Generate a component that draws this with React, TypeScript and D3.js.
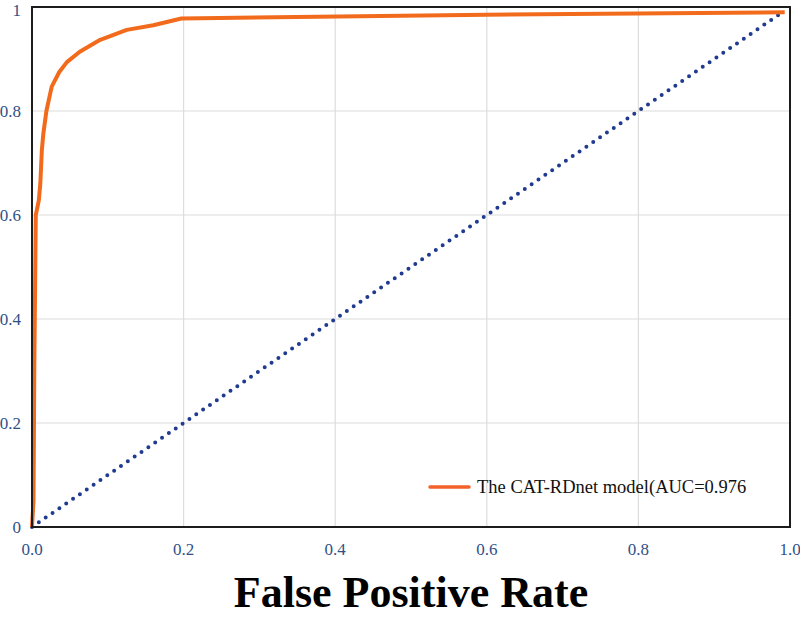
import { useEffect, useRef } from 'react';
import * as d3 from 'd3';

// ROC points for the model
const fpr = [0, 0.002, 0.003, 0.005, 0.009, 0.011, 0.013, 0.015, 0.019, 0.026, 0.036, 0.046, 0.063, 0.09, 0.125, 0.16, 0.197, 0.6, 0.993];
const tpr = [0, 0.05, 0.3, 0.6, 0.628, 0.661, 0.725, 0.757, 0.8, 0.847, 0.875, 0.894, 0.914, 0.937, 0.956, 0.965, 0.978, 0.985, 0.99];

// chance diagonal
const chanceX = [0, 0.985];
const chanceY = [0, 0.985];

const xTicks = [0, 0.2, 0.4, 0.6, 0.8, 1.0];
const yTicks = [0, 0.2, 0.4, 0.6, 0.8, 1];
const legendLabel = 'The CAT-RDnet model(AUC=0.976';
const axisTitle = 'False Positive Rate';

export default function App() {
  const svgRef = useRef<SVGSVGElement>(null);

  useEffect(() => {
    if (!svgRef.current) return;
    const width = 800;
    const height = 618;
    const margin = { top: 7, right: 10, bottom: 91, left: 32 };
    const serif = '"Liberation Serif", "Times New Roman", serif';
    const tickColor = '#2f5188';

    const svg = d3.select(svgRef.current).attr('width', width).attr('height', height);
    svg.selectAll('*').remove();

    const x = d3.scaleLinear().domain([0, 1]).range([margin.left, width - margin.right]);
    const y = d3.scaleLinear().domain([0, 1]).range([height - margin.bottom, margin.top]);

    // grid
    svg
      .append('g')
      .selectAll('line')
      .data(xTicks.slice(1, -1))
      .enter()
      .append('line')
      .attr('x1', (d) => x(d))
      .attr('x2', (d) => x(d))
      .attr('y1', y(0))
      .attr('y2', y(1))
      .attr('stroke', '#dcdcdc')
      .attr('stroke-width', 1.2);

    svg
      .append('g')
      .selectAll('line')
      .data(yTicks.slice(1, -1))
      .enter()
      .append('line')
      .attr('x1', x(0))
      .attr('x2', x(1))
      .attr('y1', (d) => y(d))
      .attr('y2', (d) => y(d))
      .attr('stroke', '#dcdcdc')
      .attr('stroke-width', 1.2);

    // tick labels
    svg
      .append('g')
      .selectAll('text')
      .data(xTicks)
      .enter()
      .append('text')
      .attr('x', (d) => x(d))
      .attr('y', 555)
      .attr('text-anchor', 'middle')
      .style('font-family', serif)
      .style('font-size', '17px')
      .style('fill', tickColor)
      .text((d) => d.toFixed(1));

    svg
      .append('g')
      .selectAll('text')
      .data(yTicks)
      .enter()
      .append('text')
      .attr('x', 21)
      .attr('y', (d) => Math.max(y(d), 10))
      .attr('dy', '0.34em')
      .attr('text-anchor', 'end')
      .style('font-family', serif)
      .style('font-size', '17px')
      .style('fill', tickColor)
      .text((d) => (d === 0 || d === 1 ? String(d) : d.toFixed(1)));

    // chance line
    const line = d3
      .line<[number, number]>()
      .x((d) => x(d[0]))
      .y((d) => y(d[1]));

    svg
      .append('path')
      .datum(chanceX.map((v, i) => [v, chanceY[i]] as [number, number]))
      .attr('d', line)
      .attr('fill', 'none')
      .attr('stroke', '#1f3a8f')
      .attr('stroke-width', 4)
      .attr('stroke-linecap', 'round')
      .attr('stroke-dasharray', '0 8.3');

    // ROC curve
    svg
      .append('path')
      .datum(fpr.map((v, i) => [v, tpr[i]] as [number, number]))
      .attr('d', line)
      .attr('fill', 'none')
      .attr('stroke', '#f26b1d')
      .attr('stroke-width', 4)
      .attr('stroke-linejoin', 'round');

    // frame
    svg
      .append('rect')
      .attr('x', x(0))
      .attr('y', y(1))
      .attr('width', x(1) - x(0))
      .attr('height', y(0) - y(1))
      .attr('fill', 'none')
      .attr('stroke', '#1c1c1c')
      .attr('stroke-width', 2);

    // legend
    const legend = svg.append('g').attr('transform', 'translate(430, 487)');
    legend
      .append('line')
      .attr('x1', 0)
      .attr('x2', 39)
      .attr('stroke', '#f2622a')
      .attr('stroke-width', 3.5)
      .attr('stroke-linecap', 'round');
    legend
      .append('text')
      .attr('x', 47)
      .attr('dy', '0.35em')
      .style('font-family', serif)
      .style('font-size', '18.5px')
      .style('fill', '#111')
      .text(legendLabel);

    svg
      .append('text')
      .attr('x', 411)
      .attr('y', 607)
      .attr('text-anchor', 'middle')
      .style('font-family', serif)
      .style('font-size', '44px')
      .style('font-weight', '700')
      .style('fill', '#000')
      .text(axisTitle);
  }, []);

  return (
    <svg
      ref={svgRef}
      style={{ position: 'absolute', left: 0, top: 0, display: 'block', background: '#fff' }}
    />
  );
}
